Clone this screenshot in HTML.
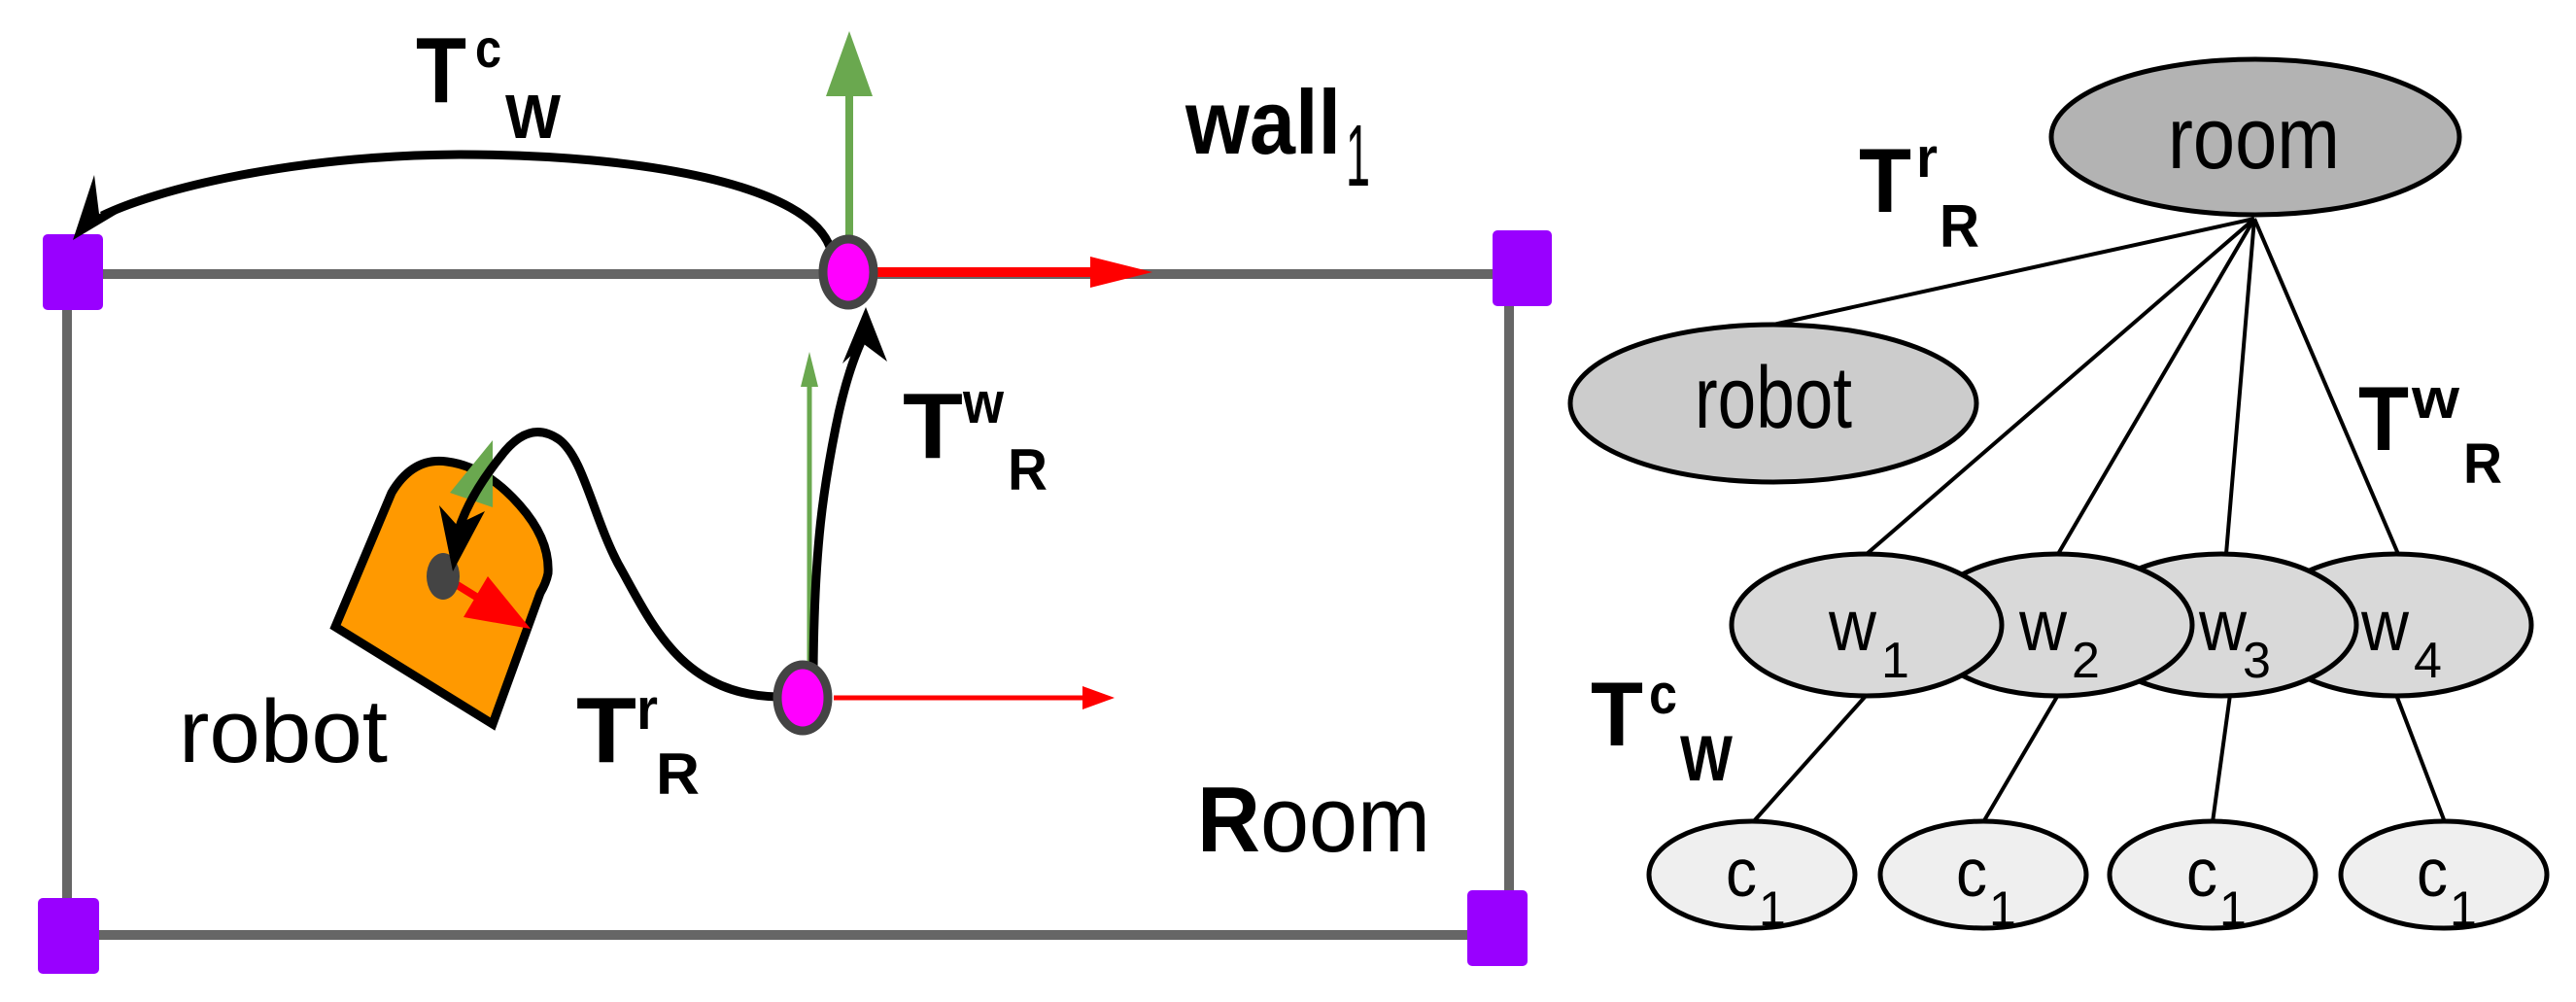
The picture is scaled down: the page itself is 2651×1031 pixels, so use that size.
<!DOCTYPE html>
<html><head><meta charset="utf-8"><style>
html,body{margin:0;padding:0;background:#fff;}
svg{display:block;}
text{font-family:"Liberation Sans",Arial,sans-serif;fill:#000;}
.b{font-weight:bold;}
</style></head><body>
<svg width="2651" height="1031" viewBox="0 0 2651 1031" xmlns="http://www.w3.org/2000/svg">
<g stroke="#666" stroke-width="10" fill="none">
<line x1="105" y1="282" x2="1536" y2="282"/>
<line x1="69" y1="319" x2="69" y2="924"/>
<line x1="102" y1="962" x2="1510" y2="962"/>
<line x1="1553" y1="315" x2="1553" y2="916"/>
</g>
<g fill="#9900ff">
<rect x="44" y="241" width="62" height="78" rx="5"/>
<rect x="1536" y="237" width="61" height="78" rx="5"/>
<rect x="39" y="924" width="63" height="78" rx="5"/>
<rect x="1510" y="916" width="62" height="78" rx="5"/>
</g>
<line x1="900" y1="280" x2="1125" y2="280" stroke="#ff0000" stroke-width="10"/>
<polygon points="1186,280 1122,264 1122,296" fill="#ff0000"/>
<line x1="874" y1="244" x2="874" y2="95" stroke="#6aa84f" stroke-width="8"/>
<polygon points="874,32 850,99 898,99" fill="#6aa84f"/>
<line x1="858" y1="718" x2="1116" y2="718" stroke="#ff0000" stroke-width="5"/>
<polygon points="1147,718 1114,706 1114,730" fill="#ff0000"/>
<line x1="833" y1="690" x2="833" y2="396" stroke="#6aa84f" stroke-width="5"/>
<polygon points="833,362 824,398 842,398" fill="#6aa84f"/>
<path d="M345,645 L403,507 Q425,470 460,475 Q500,480 535,520 Q566,555 564,590 Q562,600 556,610 L507,745 Z" fill="#ff9900" stroke="#000" stroke-width="9" stroke-linejoin="miter"/>
<polygon points="507,453 463,507 507,522" fill="#6aa84f"/>
<line x1="456" y1="593" x2="490" y2="614" stroke="#ff0000" stroke-width="8"/>
<polygon points="546,647 502,593 477,635" fill="#ff0000"/>
<ellipse cx="456" cy="593" rx="17" ry="24" fill="#444"/>
<g fill="none" stroke="#000" stroke-width="9">
<path d="M855,257 C835,190 660,159 473,159 C300,160 160,195 105,222"/>
<path d="M837,690 C838,560 848,500 860,440 C868,400 878,370 886,352"/>
<path d="M801,717 C700,715 670,640 636,580 C610,530 600,470 575,452 C550,435 530,450 515,470 C495,495 480,520 472,545"/>
</g>
<polygon points="75,247 97,180 102,220 137,210" fill="#000"/>
<polygon points="891,316 867,374 889,354 913,372" fill="#000"/>
<polygon points="466,588 452,520 470,540 499,526" fill="#000"/>
<ellipse cx="873" cy="280" rx="26" ry="34" fill="#ff00ff" stroke="#444" stroke-width="9"/>
<ellipse cx="826" cy="718" rx="26" ry="34" fill="#ff00ff" stroke="#444" stroke-width="9"/>
<text x="428" y="105" class="b" font-size="96" textLength="52" lengthAdjust="spacingAndGlyphs">T</text>
<text x="489" y="69" class="b" font-size="56" textLength="27" lengthAdjust="spacingAndGlyphs">c</text>
<text x="520" y="142" class="b" font-size="64" textLength="57" lengthAdjust="spacingAndGlyphs">W</text>
<text x="1220" y="158" class="b" font-size="94" textLength="160" lengthAdjust="spacingAndGlyphs">wall</text>
<text x="1385" y="191" font-size="90" textLength="25" lengthAdjust="spacingAndGlyphs">1</text>
<text x="929" y="471" class="b" font-size="96" textLength="62" lengthAdjust="spacingAndGlyphs">T</text>
<text x="991" y="435" class="b" font-size="60" textLength="42" lengthAdjust="spacingAndGlyphs">w</text>
<text x="1037" y="504" class="b" font-size="60" textLength="41" lengthAdjust="spacingAndGlyphs">R</text>
<text x="184" y="784" font-size="92" textLength="215" lengthAdjust="spacingAndGlyphs">robot</text>
<text x="593" y="784" class="b" font-size="96" textLength="62" lengthAdjust="spacingAndGlyphs">T</text>
<text x="655" y="750" class="b" font-size="60" textLength="22" lengthAdjust="spacingAndGlyphs">r</text>
<text x="675" y="817" class="b" font-size="60" textLength="45" lengthAdjust="spacingAndGlyphs">R</text>
<text x="1232" y="876" font-size="96" textLength="240" lengthAdjust="spacingAndGlyphs"><tspan class="b">R</tspan>oom</text>
<g stroke="#000" stroke-width="4">
<line x1="2320" y1="225" x2="1825" y2="334"/>
<line x1="2320" y1="225" x2="1921" y2="570"/>
<line x1="2320" y1="225" x2="2118" y2="570"/>
<line x1="2320" y1="225" x2="2291" y2="570"/>
<line x1="2320" y1="225" x2="2468" y2="570"/>
<line x1="1921" y1="715" x2="1804" y2="846"/>
<line x1="2118" y1="715" x2="2041" y2="846"/>
<line x1="2295" y1="715" x2="2277" y2="846"/>
<line x1="2466" y1="715" x2="2516" y2="846"/>
</g>
<g stroke="#000" stroke-width="5">
<ellipse cx="2321" cy="141" rx="210" ry="80" fill="#b3b3b3"/>
<ellipse cx="1825" cy="415" rx="209" ry="81" fill="#cccccc"/>
<ellipse cx="2466" cy="643" rx="139" ry="73" fill="#d9d9d9"/>
<ellipse cx="2286" cy="643" rx="139" ry="73" fill="#d9d9d9"/>
<ellipse cx="2117" cy="643" rx="139" ry="73" fill="#d9d9d9"/>
<ellipse cx="1921" cy="643" rx="139" ry="73" fill="#d9d9d9"/>
<ellipse cx="1803" cy="900" rx="106" ry="55" fill="#efefef"/>
<ellipse cx="2041" cy="900" rx="106" ry="55" fill="#efefef"/>
<ellipse cx="2277" cy="900" rx="106" ry="55" fill="#efefef"/>
<ellipse cx="2515" cy="900" rx="106" ry="55" fill="#efefef"/>
</g>
<text x="2231" y="173" font-size="90" textLength="177" lengthAdjust="spacingAndGlyphs">room</text>
<text x="1744" y="440" font-size="90" textLength="162" lengthAdjust="spacingAndGlyphs">robot</text>
<g font-size="74">
<text x="1882" y="669" textLength="49" lengthAdjust="spacingAndGlyphs">w</text>
<text x="2078" y="669" textLength="49" lengthAdjust="spacingAndGlyphs">w</text>
<text x="2263" y="669" textLength="49" lengthAdjust="spacingAndGlyphs">w</text>
<text x="2430" y="669" textLength="49" lengthAdjust="spacingAndGlyphs">w</text>
</g>
<g font-size="52">
<text x="1936" y="697">1</text>
<text x="2132" y="697">2</text>
<text x="2308" y="697">3</text>
<text x="2484" y="697">4</text>
</g>
<g font-size="70">
<text x="1776" y="922" textLength="32" lengthAdjust="spacingAndGlyphs">c</text>
<text x="2013" y="922" textLength="32" lengthAdjust="spacingAndGlyphs">c</text>
<text x="2250" y="922" textLength="32" lengthAdjust="spacingAndGlyphs">c</text>
<text x="2487" y="922" textLength="32" lengthAdjust="spacingAndGlyphs">c</text>
</g>
<g font-size="50">
<text x="1810" y="952">1</text>
<text x="2047" y="952">1</text>
<text x="2284" y="952">1</text>
<text x="2521" y="952">1</text>
</g>
<text x="1913" y="218" class="b" font-size="94" textLength="54" lengthAdjust="spacingAndGlyphs">T</text>
<text x="1972" y="182" class="b" font-size="58" textLength="22" lengthAdjust="spacingAndGlyphs">r</text>
<text x="1996" y="254" class="b" font-size="62" textLength="41" lengthAdjust="spacingAndGlyphs">R</text>
<text x="2427" y="463" class="b" font-size="94" textLength="52" lengthAdjust="spacingAndGlyphs">T</text>
<text x="2482" y="430" class="b" font-size="58" textLength="49" lengthAdjust="spacingAndGlyphs">w</text>
<text x="2535" y="497" class="b" font-size="58" textLength="40" lengthAdjust="spacingAndGlyphs">R</text>
<text x="1637" y="767" class="b" font-size="94" textLength="54" lengthAdjust="spacingAndGlyphs">T</text>
<text x="1697" y="734" class="b" font-size="58" textLength="29" lengthAdjust="spacingAndGlyphs">c</text>
<text x="1729" y="803" class="b" font-size="66" textLength="54" lengthAdjust="spacingAndGlyphs">W</text>
</svg>
</body></html>
